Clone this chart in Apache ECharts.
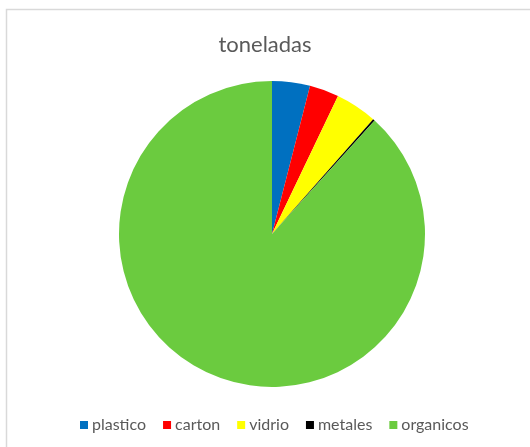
<!DOCTYPE html>
<html>
<head>
<meta charset="utf-8">
<script src="https://cdn.jsdelivr.net/npm/echarts@6/dist/echarts.min.js"></script>
<style>
html,body{margin:0;padding:0;background:#fff;}
#c{width:530px;height:447px;}
</style>
</head>
<body>
<div id="c"></div>
<script>
var categories = ['plastico', 'carton', 'vidrio', 'metales', 'organicos'];
var values = [4.0, 3.1, 4.4, 0.2, 88.3];
var colors = ['#0070C0', '#FF0000', '#FFFF00', '#000000', '#6BCB3F'];

var chart = echarts.init(document.getElementById('c'));
chart.setOption({
  animation: false,
  backgroundColor: '#fff',
  title: {
    text: 'toneladas',
    left: 'center',
    top: 29,
    textStyle: { fontFamily: 'Lato', fontSize: 22, fontWeight: 'normal', color: '#595959' }
  },
  legend: {
    bottom: 9,
    left: 75,
    itemWidth: 8,
    itemHeight: 8,
    itemGap: 17,
    icon: 'rect',
    textStyle: { fontFamily: 'Lato', fontSize: 16, color: '#595959', padding: [0, 0, 0, -1] },
    data: categories
  },
  graphic: [{
    type: 'rect',
    shape: { x: 6.5, y: 9.5, width: 600, height: 600 },
    style: { fill: 'none', stroke: '#D9D9D9', lineWidth: 1.5 },
    silent: true,
    z: -10
  }],
  series: [{
    type: 'pie',
    center: [272, 234],
    radius: [0, 153],
    startAngle: 90,
    clockwise: true,
    label: { show: false },
    labelLine: { show: false },
    emphasis: { disabled: true },
    itemStyle: { borderWidth: 0 },
    data: categories.map(function (c, i) {
      return { name: c, value: values[i], itemStyle: { color: colors[i] } };
    })
  }]
});
</script>
</body>
</html>
